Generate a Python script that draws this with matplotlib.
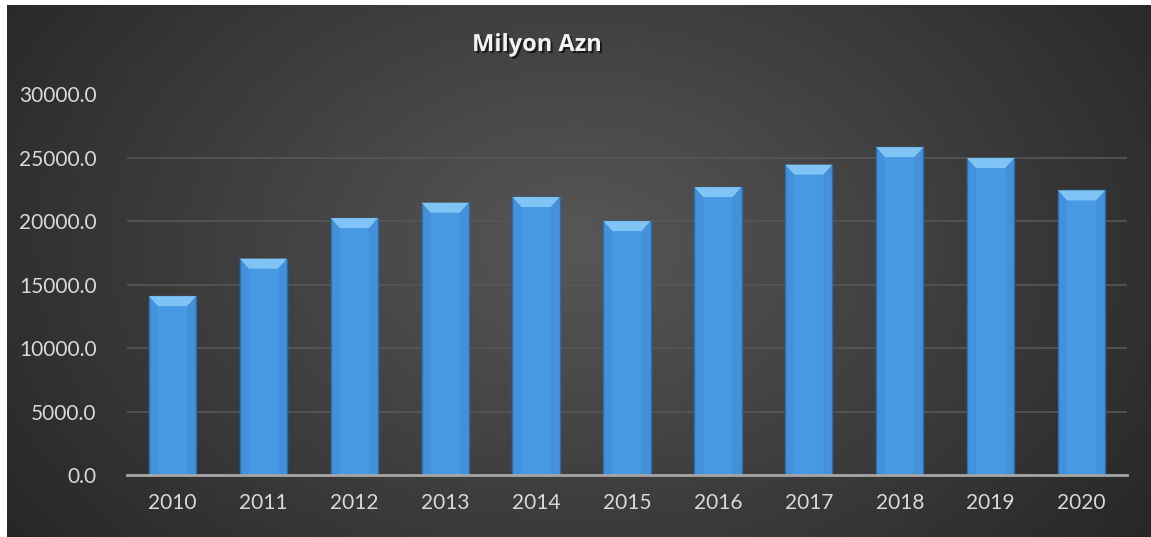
import numpy as np
import matplotlib
matplotlib.use('Agg')
import matplotlib.pyplot as plt
from matplotlib.patches import Polygon
import matplotlib.patheffects as pe

# --- данные ---
years = ['2010', '2011', '2012', '2013', '2014', '2015', '2016', '2017', '2018', '2019', '2020']
values = [14100, 17060, 20260, 21470, 21920, 20020, 22700, 24470, 25850, 24990, 22440]
y_ticks = [0, 5000, 10000, 15000, 20000, 25000, 30000]
title = 'Milyon Azn'

plt.rcParams['font.family'] = ['Lato', 'DejaVu Sans']

W, H = 1151, 537
fig = plt.figure(figsize=(W / 100, H / 100), dpi=100)
fig.patch.set_facecolor('white')

# фон: радиальный градиент
bg = fig.add_axes([7 / W, 0, 1 - 7 / W, 1 - 5 / H])
yy, xx = np.mgrid[0:1:300j, 0:1:600j]
r = np.sqrt(((xx - 0.5) / 0.5) ** 2 + ((yy - 0.45) / 0.75) ** 2)
r = np.clip(r / 1.25, 0, 1)
shade = 0.34 - 0.19 * r
img = np.dstack([shade, shade, shade])
bg.imshow(img, aspect='auto', extent=[0, 1, 0, 1], interpolation='bicubic')
bg.set_axis_off()

# основной график
ax = fig.add_axes([127 / W, (H - 475) / H, 1000 / W, 380.5 / H])
ax.set_facecolor('none')
x = np.arange(len(years))
bw = 0.52
bars = ax.bar(x, values, width=bw, color='#4799e4', edgecolor='#2c6aa5', linewidth=1.0, zorder=3)

ax.set_xlim(-0.5, len(years) - 0.5)
ax.set_ylim(0, 30000)

# скос на верхушке столбцов
dy = 10 * 30000 / 380.5
dx = 9 * 1.0 / (1000 / len(years))
for b in bars:
    x0 = b.get_x()
    x1 = x0 + b.get_width()
    top = b.get_height()
    ax.add_patch(Polygon([(x0, top), (x1, top), (x1 - dx, top - dy), (x0 + dx, top - dy)],
                         closed=True, facecolor='#80c4f6', edgecolor='none', zorder=4))
    ax.add_patch(Polygon([(x0, top), (x0 + dx, top - dy), (x0 + dx, 0), (x0, 0)],
                         closed=True, facecolor='#3a7fc4', edgecolor='none', zorder=4, alpha=0.3))
    ax.add_patch(Polygon([(x1, top), (x1 - dx, top - dy), (x1 - dx, 0), (x1, 0)],
                         closed=True, facecolor='#3a7fc4', edgecolor='none', zorder=4, alpha=0.3))

ax.set_yticks(y_ticks)
ax.set_yticklabels([f'{v:.1f}' for v in y_ticks])
ax.set_xticks(x)
ax.set_xticklabels(years)
ax.tick_params(axis='both', length=0, colors='#d9d9d9', labelsize=15)
ax.tick_params(axis='y', pad=22)
ax.tick_params(axis='x', pad=13)
ax.grid(axis='y', color='#575757', linewidth=1.2, zorder=0)
for s in ['top', 'right', 'left']:
    ax.spines[s].set_visible(False)
ax.spines['bottom'].set_color('#a6a6a6')
ax.spines['bottom'].set_linewidth(2)
ax.spines['bottom'].set_zorder(5)

fig.text(537 / W, 1 - 45 / H, title, ha='center', va='center', fontsize=17, fontweight='bold',
         family=['Open Sans', 'DejaVu Sans'], color='#f2f2f2',
         path_effects=[pe.withSimplePatchShadow(offset=(1.5, -1.5), shadow_rgbFace='black', alpha=0.6)])

fig.savefig('out.png', dpi=100, facecolor=fig.get_facecolor())
